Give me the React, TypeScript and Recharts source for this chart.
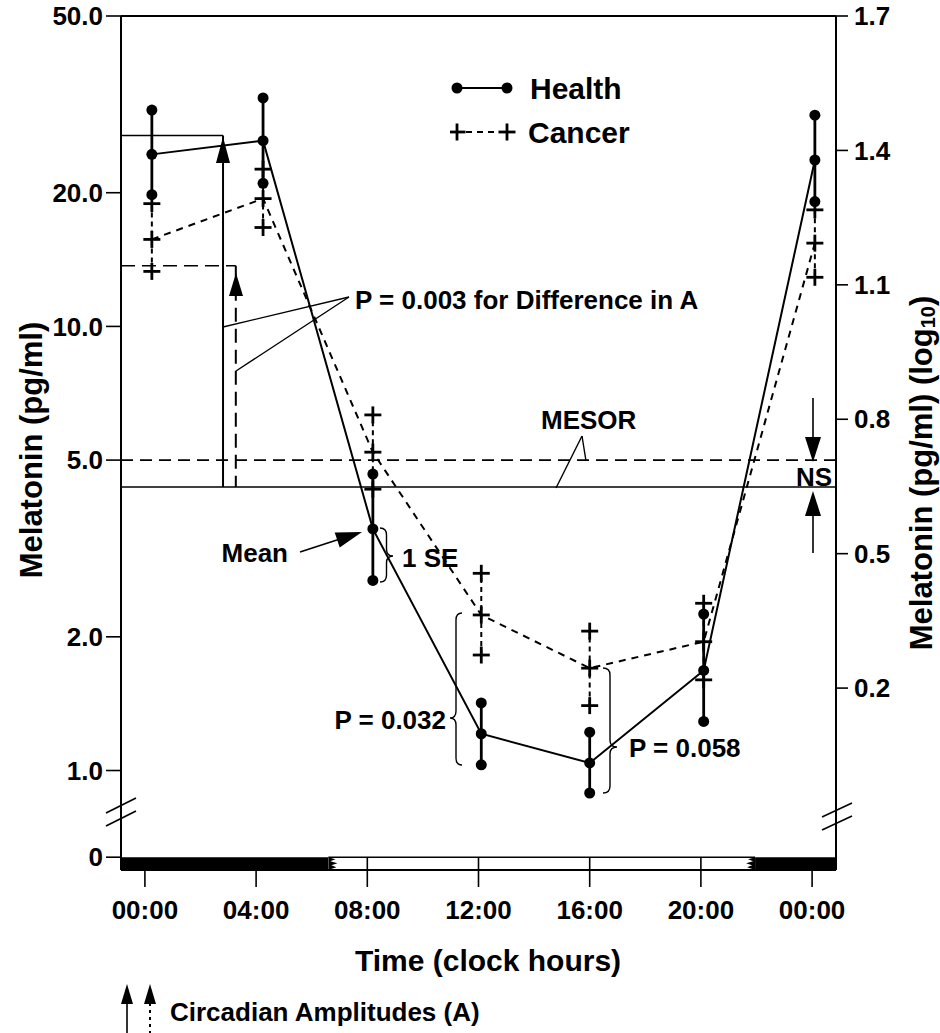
import React from "react";
import {
  ComposedChart,
  Line,
  XAxis,
  YAxis,
  ErrorBar,
  ReferenceLine,
  ReferenceArea,
  Legend,
} from "recharts";

// values (pg/ml, log axis)
const hours = [0.25, 4.25, 8.2, 12.1, 16, 20.1, 24.1];
const healthMean = [24.4, 26.2, 3.5, 1.21, 1.04, 1.68, 23.7];
const healthUpper = [30.7, 32.7, 4.65, 1.42, 1.22, 2.25, 29.9];
const healthLower = [19.8, 21.0, 2.68, 1.03, 0.89, 1.29, 19.1];
const cancerMean = [15.7, 19.4, 5.21, 2.24, 1.7, 1.95, 15.4];
const cancerUpper = [18.9, 22.6, 6.32, 2.78, 2.06, 2.38, 18.3];
const cancerLower = [13.3, 16.7, 4.3, 1.82, 1.4, 1.6, 12.9];

const hourTicks = [0, 4, 8, 12, 16, 20, 24];
const leftTicks = [0.638, 1, 2, 5, 10, 20, 50];
const rightTicks = [0.2, 0.5, 0.8, 1.1, 1.4, 1.7];

// cosinor summaries
const mesorHealth = 4.35;
const mesorCancer = 5.0;
const peakHealth = 26.9;
const peakCancer = 13.7;
const ampHourHealth = 2.81;
const ampHourCancer = 3.27;

// light/dark bar under the axis
const darkUntil = 6.6;
const darkFrom = 21.95;

const X_MIN = -0.86;
const X_MAX = 24.86;
const Y_MIN = 0.597;
const Y_MAX = 50;
const ZERO = 0.638;

const FONT = "'Liberation Sans', Arial, Helvetica, sans-serif";
const INK = "#000";

const rows = hours.map((hour, i) => ({
  hour,
  healthMean: healthMean[i],
  healthUpper: healthUpper[i],
  healthLower: healthLower[i],
  healthErr: [healthMean[i] - healthLower[i], healthUpper[i] - healthMean[i]],
  cancerMean: cancerMean[i],
  cancerUpper: cancerUpper[i],
  cancerLower: cancerLower[i],
  cancerErr: [cancerMean[i] - cancerLower[i], cancerUpper[i] - cancerMean[i]],
}));

function Dot(p: any) {
  if (p.cx == null || p.cy == null) return <g key={p.index} />;
  return <circle key={p.index} cx={p.cx} cy={p.cy} r={5.5} fill={INK} />;
}

function Plus(p: any) {
  if (p.cx == null || p.cy == null) return <g key={p.index} />;
  const s = 8.5;
  return (
    <g key={p.index} stroke={INK} strokeWidth={2.8}>
      <line x1={p.cx - s} y1={p.cy} x2={p.cx + s} y2={p.cy} />
      <line x1={p.cx} y1={p.cy - s} x2={p.cx} y2={p.cy + s} />
    </g>
  );
}

// light span of the bar, with ragged dark edges bleeding in on both sides
function LightBar(p: any) {
  const { x, y, width, height } = p;
  const b = y + height;
  const teeth = (x0: number, dir: number) =>
    `M ${x0} ${y} L ${x0 + dir * 7} ${y + 2} L ${x0 + dir * 2} ${y + 4} L ${x0 + dir * 9} ${y + 6} L ${x0 + dir * 3} ${y + 8} L ${x0 + dir * 8} ${y + 10} L ${x0 + dir * 2} ${y + 12} L ${x0} ${b} Z`;
  return (
    <g>
      <rect x={x} y={y} width={width} height={height} fill="#fff" />
      <line x1={x} y1={y} x2={x + width} y2={y} stroke={INK} strokeWidth={1.5} />
      <line x1={x} y1={b} x2={x + width} y2={b} stroke={INK} strokeWidth={1.5} />
      <path d={teeth(x, 1)} fill={INK} />
      <path d={teeth(x + width, -1)} fill={INK} />
    </g>
  );
}

function LegendBox() {
  return (
    <svg width={230} height={86}>
      <line x1={7} y1={18} x2={57} y2={18} stroke={INK} strokeWidth={2} />
      <circle cx={7} cy={18} r={5.5} fill={INK} />
      <circle cx={57} cy={18} r={5.5} fill={INK} />
      <text x={80} y={18} dominantBaseline="central" fontFamily={FONT} fontWeight={700} fontSize={30}>
        Health
      </text>
      <line x1={16} y1={62} x2={49} y2={62} stroke={INK} strokeWidth={2} strokeDasharray="6 5" />
      <Plus cx={7} cy={62} index={0} />
      <Plus cx={57} cy={62} index={1} />
      <text x={78} y={62} dominantBaseline="central" fontFamily={FONT} fontWeight={700} fontSize={30}>
        Cancer
      </text>
    </svg>
  );
}

// curly brace, tip at (x + d, ym)
function brace(x: number, y1: number, y2: number, ym: number, d: number) {
  const h = x + d / 2;
  const r = 7 * Math.sign(y2 - y1);
  return `M ${x} ${y1} Q ${h} ${y1} ${h} ${y1 + r} L ${h} ${ym - r} Q ${h} ${ym} ${x + d} ${ym} Q ${h} ${ym} ${h} ${ym + r} L ${h} ${y2 - r} Q ${h} ${y2} ${x} ${y2}`;
}

function Annotations() {
  const t = { fontFamily: FONT, fontWeight: 700, fill: INK } as const;
  return (
    <svg
      width={940}
      height={1033}
      style={{ position: "absolute", left: 0, top: 0, pointerEvents: "none" }}
    >
      {/* axis titles */}
      <text {...t} fontSize={31} textAnchor="middle" dominantBaseline="central" transform="translate(31,450) rotate(-90)">
        Melatonin (pg/ml)
      </text>
      <text {...t} fontSize={31} textAnchor="middle" dominantBaseline="central" transform="translate(921,473) rotate(-90)">
        Melatonin (pg/ml) (log
        <tspan fontSize={20} dy={7}>10</tspan>
        <tspan dy={-7}>)</tspan>
      </text>
      <text {...t} fontSize={30} textAnchor="middle" dominantBaseline="central" x={488} y={960}>
        Time (clock hours)
      </text>

      {/* amplitude labels */}
      <text {...t} fontSize={26} dominantBaseline="central" x={355} y={300}>
        P = 0.003 for Difference in A
      </text>
      <g stroke={INK} strokeWidth={1.4}>
        <line x1={349} y1={297} x2={223} y2={327} />
        <line x1={349} y1={297} x2={236} y2={371} />
      </g>
      <polygon points="223,137 216,163 230,163" fill={INK} />
      <polygon points="236,273 229,296 243,296" fill={INK} />

      {/* MESOR */}
      <text {...t} fontSize={26} dominantBaseline="central" x={541} y={420}>
        MESOR
      </text>
      <g stroke={INK} strokeWidth={1.4}>
        <line x1={582} y1={436} x2={556} y2={488} />
        <line x1={582} y1={436} x2={586} y2={461} />
      </g>
      <text {...t} fontSize={26} textAnchor="middle" dominantBaseline="central" x={814} y={477}>
        NS
      </text>
      <g stroke={INK} strokeWidth={1.6}>
        <line x1={813} y1={398} x2={813} y2={440} />
        <line x1={813} y1={514} x2={813} y2={553} />
      </g>
      <polygon points="813,462 805,437 821,437" fill={INK} />
      <polygon points="813,491 805,516 821,516" fill={INK} />

      {/* Mean / SE */}
      <text {...t} fontSize={26} textAnchor="end" dominantBaseline="central" x={288} y={553}>
        Mean
      </text>
      <line x1={300} y1={552} x2={340} y2={539} stroke={INK} strokeWidth={1.6} />
      <polygon points="362,532 334.7,532.4 339.7,547.6" fill={INK} />
      <path d={brace(380, 528, 582, 556, 13)} fill="none" stroke={INK} strokeWidth={1.4} />
      <text {...t} fontSize={26} dominantBaseline="central" x={402} y={558}>
        1 SE
      </text>

      {/* P values */}
      <path d={brace(462, 613, 765, 718, -12)} fill="none" stroke={INK} strokeWidth={1.4} />
      <text {...t} fontSize={26} textAnchor="end" dominantBaseline="central" x={446} y={720}>
        P = 0.032
      </text>
      <path d={brace(603, 668, 793, 747, 14)} fill="none" stroke={INK} strokeWidth={1.4} />
      <text {...t} fontSize={26} dominantBaseline="central" x={629} y={748}>
        P = 0.058
      </text>

      {/* axis breaks */}
      <g stroke={INK} strokeWidth={1.6}>
        <line x1={106} y1={813} x2={136} y2={798} />
        <line x1={106} y1={826} x2={136} y2={811} />
        <line x1={822} y1={817} x2={852} y2={803} />
        <line x1={822} y1={830} x2={852} y2={816} />
      </g>

      {/* circadian amplitude key */}
      <line x1={127} y1={996} x2={127} y2={1033} stroke={INK} strokeWidth={1.6} />
      <polygon points="127,984 121,1004 133,1004" fill={INK} />
      <line x1={150} y1={996} x2={150} y2={1033} stroke={INK} strokeWidth={2} strokeDasharray="3 4" />
      <polygon points="150,984 144,1004 156,1004" fill={INK} />
      <text {...t} fontSize={26} dominantBaseline="central" x={170} y={1012}>
        Circadian Amplitudes (A)
      </text>
    </svg>
  );
}

const fmtHour = (h: number) => `${String(h % 24).padStart(2, "0")}:00`;

export default function App() {
  const tickStyle = { fill: INK, fontSize: 26, fontWeight: 700, fontFamily: FONT };
  return (
    <div style={{ position: "absolute", left: 0, top: 0, width: 940, height: 1033, background: "#fff" }}>
      <ComposedChart
        width={940}
        height={1033}
        data={rows}
        margin={{ top: 16, right: 0, bottom: 0, left: 0 }}
      >
        <XAxis
          dataKey="hour"
          type="number"
          domain={[X_MIN, X_MAX]}
          allowDataOverflow
          ticks={hourTicks}
          tickFormatter={fmtHour}
          height={163}
          tickSize={17}
          tickMargin={14}
          tick={tickStyle}
          axisLine={{ stroke: INK, strokeWidth: 2 }}
          tickLine={{ stroke: INK, strokeWidth: 1.6 }}
        />
        <YAxis
          yAxisId="l"
          scale="log"
          type="number"
          domain={[Y_MIN, Y_MAX]}
          allowDataOverflow
          ticks={leftTicks}
          tickFormatter={(v: number) => (v < 0.9 ? "0" : v.toFixed(1))}
          width={121}
          tickSize={15}
          tickMargin={3}
          tick={tickStyle}
          axisLine={{ stroke: INK, strokeWidth: 2 }}
          tickLine={{ stroke: INK, strokeWidth: 1.6 }}
        />
        <YAxis
          yAxisId="r"
          orientation="right"
          type="number"
          domain={[-0.206, 1.7]}
          allowDataOverflow
          ticks={rightTicks}
          tickFormatter={(v: number) => v.toFixed(1)}
          width={104}
          tickSize={12}
          tickMargin={6}
          tick={tickStyle}
          axisLine={{ stroke: INK, strokeWidth: 2 }}
          tickLine={{ stroke: INK, strokeWidth: 1.6 }}
        />

        {/* dark / light bar */}
        <ReferenceArea yAxisId="l" x1={X_MIN} x2={darkUntil} y1={Y_MIN} y2={ZERO} fill={INK} fillOpacity={1} stroke="none" />
        <ReferenceArea yAxisId="l" x1={darkUntil} x2={darkFrom} y1={Y_MIN} y2={ZERO} shape={LightBar} />
        <ReferenceArea yAxisId="l" x1={darkFrom} x2={X_MAX} y1={Y_MIN} y2={ZERO} fill={INK} fillOpacity={1} stroke="none" />
        {hourTicks
          .filter((h) => h > darkUntil && h < darkFrom)
          .map((h) => (
            <ReferenceLine
              key={h}
              yAxisId="l"
              segment={[{ x: h, y: Y_MIN }, { x: h, y: ZERO }]}
              stroke={INK}
              strokeWidth={1.6}
            />
          ))}

        {/* frame top */}
        <ReferenceLine yAxisId="l" y={Y_MAX} stroke={INK} strokeWidth={2} />

        {/* MESOR lines */}
        <ReferenceLine yAxisId="l" y={mesorHealth} stroke={INK} strokeWidth={1.6} />
        <ReferenceLine yAxisId="l" y={mesorCancer} stroke={INK} strokeWidth={1.6} strokeDasharray="12 7" />

        {/* amplitude boxes */}
        <ReferenceLine
          yAxisId="l"
          segment={[{ x: X_MIN, y: peakHealth }, { x: ampHourHealth, y: peakHealth }]}
          stroke={INK}
          strokeWidth={1.6}
        />
        <ReferenceLine
          yAxisId="l"
          segment={[{ x: ampHourHealth, y: peakHealth }, { x: ampHourHealth, y: mesorHealth }]}
          stroke={INK}
          strokeWidth={2}
        />
        <ReferenceLine
          yAxisId="l"
          segment={[{ x: X_MIN, y: peakCancer }, { x: ampHourCancer, y: peakCancer }]}
          stroke={INK}
          strokeWidth={1.6}
          strokeDasharray="14 7"
        />
        <ReferenceLine
          yAxisId="l"
          segment={[{ x: ampHourCancer, y: peakCancer }, { x: ampHourCancer, y: mesorHealth }]}
          stroke={INK}
          strokeWidth={2}
          strokeDasharray="14 7"
        />

        {/* cancer */}
        <Line
          yAxisId="l"
          dataKey="cancerMean"
          type="linear"
          stroke={INK}
          strokeWidth={2}
          strokeDasharray="7 6"
          dot={Plus}
          activeDot={false}
          isAnimationActive={false}
        >
          <ErrorBar dataKey="cancerErr" direction="y" width={0} stroke={INK} strokeWidth={2} strokeDasharray="5 4" />
        </Line>
        <Line yAxisId="l" dataKey="cancerUpper" stroke="none" dot={Plus} activeDot={false} isAnimationActive={false} legendType="none" />
        <Line yAxisId="l" dataKey="cancerLower" stroke="none" dot={Plus} activeDot={false} isAnimationActive={false} legendType="none" />

        {/* health */}
        <Line
          yAxisId="l"
          dataKey="healthMean"
          type="linear"
          stroke={INK}
          strokeWidth={2}
          dot={Dot}
          activeDot={false}
          isAnimationActive={false}
        >
          <ErrorBar dataKey="healthErr" direction="y" width={0} stroke={INK} strokeWidth={2.8} />
        </Line>
        <Line yAxisId="l" dataKey="healthUpper" stroke="none" dot={Dot} activeDot={false} isAnimationActive={false} legendType="none" />
        <Line yAxisId="l" dataKey="healthLower" stroke="none" dot={Dot} activeDot={false} isAnimationActive={false} legendType="none" />

        <Legend
          layout="horizontal"
          verticalAlign="middle"
          align="center"
          content={() => <LegendBox />}
          wrapperStyle={{ position: "absolute", left: 450, top: 70, width: 230, height: 86 }}
        />
      </ComposedChart>
      <Annotations />
    </div>
  );
}
